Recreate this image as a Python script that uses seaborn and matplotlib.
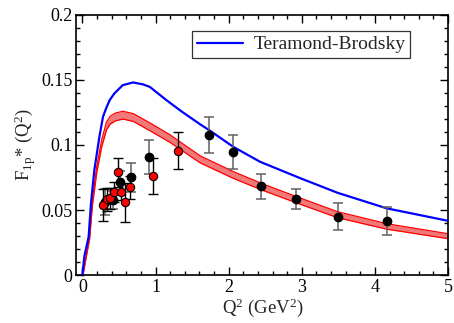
"""
F1p* form factor vs Q^2
"""

import numpy as np
import pandas as pd
import seaborn as sns
import matplotlib.pyplot as plt
from matplotlib.ticker import MultipleLocator, FuncFormatter


# data
# blue curve (Teramond-Brodsky)
tb_q2 = [0.0, 0.027, 0.086, 0.118, 0.164, 0.233, 0.282, 0.324, 0.374, 0.438, 0.552,
         0.693, 0.83, 0.922, 1.15, 1.35, 1.607, 1.744, 2.063, 2.43, 2.98, 3.49, 4.16, 5.0]
tb_f = [0.0, 0.0143, 0.0296, 0.0552, 0.0808, 0.1063, 0.1216, 0.128, 0.1345, 0.1396, 0.1459,
        0.148, 0.1465, 0.1446, 0.1344, 0.126, 0.116, 0.111, 0.0986, 0.0871, 0.0745,
        0.0633, 0.0514, 0.0418]

# red band (central values and half width)
band_q2 = [0.008, 0.1, 0.137, 0.196, 0.264, 0.329, 0.38, 0.45, 0.556, 0.7, 0.922, 1.196,
           1.61, 2.063, 2.45, 2.95, 3.49, 4.16, 5.0]
band_f = [0.0, 0.0296, 0.0552, 0.0808, 0.1012, 0.1145, 0.119, 0.1215, 0.1229, 0.121, 0.114,
          0.105, 0.089, 0.077, 0.068, 0.0575, 0.0465, 0.0375, 0.0300]
band_hw = [0.0, 0.0015, 0.002, 0.0025, 0.0028, 0.003, 0.003, 0.003, 0.003, 0.003, 0.003,
           0.0029, 0.0027, 0.0026, 0.0025, 0.0024, 0.0023, 0.0021, 0.0019]

# black data points
blk_q2 = [0.31, 0.42, 0.511, 0.662, 0.912, 1.732, 2.059, 2.447, 2.918, 3.49, 4.16]
blk_f = [0.056, 0.0577, 0.0718, 0.0751, 0.0905, 0.1076, 0.0948, 0.0682, 0.0585, 0.0449, 0.0416]
blk_err = [0.01, 0.007, 0.008, 0.011, 0.013, 0.0136, 0.0132, 0.0097, 0.0078, 0.0102, 0.0109]

# red data points
red_q2 = [0.282, 0.337, 0.383, 0.433, 0.484, 0.529, 0.589, 0.652, 0.963, 1.31]
red_f = [0.0541, 0.0583, 0.059, 0.0641, 0.079, 0.0641, 0.0562, 0.0675, 0.0761, 0.0956]
red_err = [0.0124, 0.009, 0.008, 0.0077, 0.011, 0.006, 0.015, 0.009, 0.014, 0.014]


# configurations
sns.set_style("ticks")
plt.rcParams["font.family"] = "Liberation Serif"
plt.rcParams["mathtext.fontset"] = "custom"
plt.rcParams["mathtext.rm"] = "Liberation Serif"
plt.rcParams["mathtext.it"] = "Liberation Serif:italic"

fig = plt.figure(figsize=(4.54, 3.23), dpi=100)
ax = fig.add_axes([0.1685, 0.1477, 0.8185, 0.8068])

# red band
lo = np.array(band_f) - np.array(band_hw)
hi = np.array(band_f) + np.array(band_hw)
ax.fill_between(band_q2, lo, hi, color="#f07a7a", lw=0, zorder=2)
ax.plot(band_q2, lo, color="red", lw=0.9, zorder=2)
ax.plot(band_q2, hi, color="red", lw=0.9, zorder=2)

# blue curve
tb = pd.DataFrame({"q2": tb_q2, "f": tb_f})
sns.lineplot(data=tb, x="q2", y="f", color="blue", lw=1.6, sort=False,
             label="Teramond-Brodsky", ax=ax, zorder=3)

# data points
ax.errorbar(blk_q2, blk_f, yerr=blk_err, fmt="none", ecolor="#606060",
            elinewidth=1.1, capsize=3.5, capthick=1.1, zorder=4)
ax.plot(blk_q2, blk_f, "o", color="black", ms=6, zorder=5)
ax.errorbar(red_q2, red_f, yerr=red_err, fmt="none", ecolor="black",
            elinewidth=1.0, capsize=3.5, capthick=1.0, zorder=6)
ax.plot(red_q2, red_f, "o", mfc="red", mec="black", mew=0.8, ms=6, zorder=7)

# polishing
ax.set_xlim(-0.08, 5)
ax.set_ylim(0, 0.2)
ax.xaxis.set_major_locator(MultipleLocator(1))
ax.xaxis.set_minor_locator(MultipleLocator(0.2))
ax.yaxis.set_major_locator(MultipleLocator(0.05))
ax.yaxis.set_minor_locator(MultipleLocator(0.01))
ax.yaxis.set_major_formatter(FuncFormatter(lambda v, p: f"{v:g}"))
ax.tick_params(which="both", direction="in", top=True, right=True,
               labelsize=13, width=1, colors="black")
ax.tick_params(which="major", length=6, pad=3)
ax.tick_params(which="minor", length=3)
for s in ax.spines.values():
    s.set_linewidth(1.2)
    s.set_color("black")

ax.set_xlabel(r"Q$^2$ (GeV$^2$)", fontsize=13.5, labelpad=0)
ax.set_ylabel(r"F$_{\mathrm{1p}}$* (Q$^2$)", fontsize=13.5, labelpad=2)

leg = ax.legend(loc="upper right", bbox_to_anchor=(0.898, 0.9375), borderaxespad=0,
                fancybox=False, frameon=True, fontsize=14, handlelength=2.4,
                borderpad=0.25, handletextpad=0.5)
leg.get_frame().set_edgecolor("black")
leg.get_frame().set_linewidth(0.9)

fig.savefig("out.png", dpi=100)
